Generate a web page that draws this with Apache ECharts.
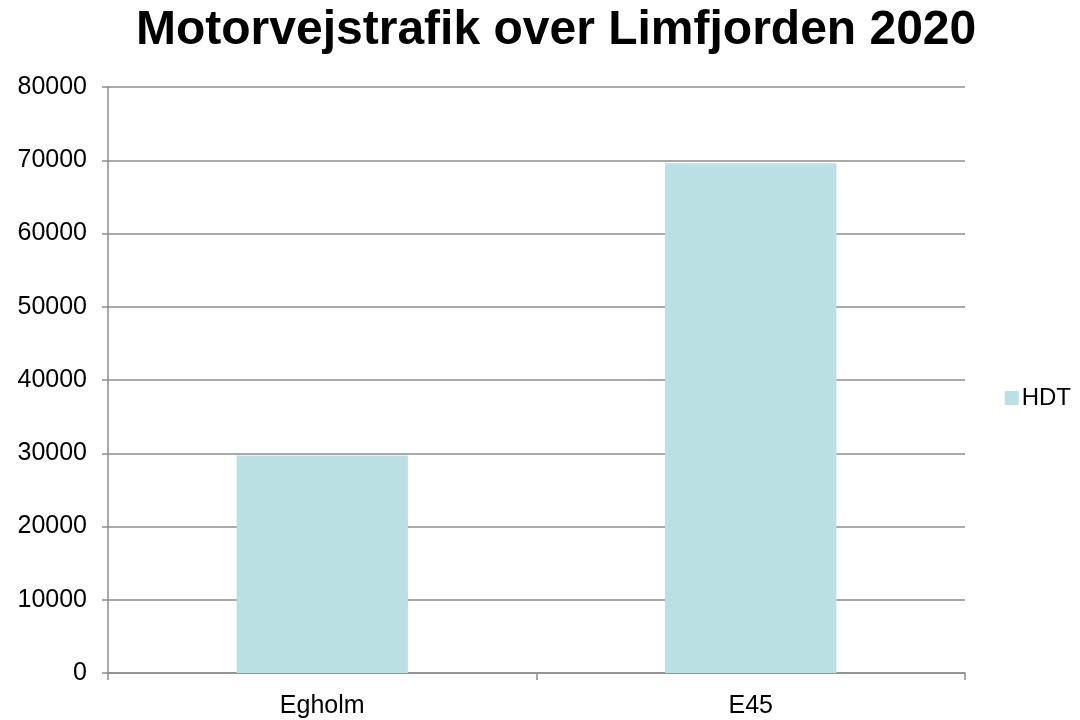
<!DOCTYPE html>
<html lang="da">
<head>
    <meta charset="UTF-8">
    <title>Motorvejstrafik over Limfjorden 2020</title>
    <script src="https://cdn.jsdelivr.net/npm/echarts@6/dist/echarts.min.js"></script>
    <style>
        html, body { margin: 0; padding: 0; background: #fff; }
        #main { width: 1080px; height: 720px; }
    </style>
</head>
<body>
<div id="main"></div>
<script>
    var categories = ['Egholm', 'E45'];
    var hdtValues = [29700, 69600];
    var seriesName = 'HDT';

    var chart = echarts.init(document.getElementById('main'));
    var font = 'Arial, "Liberation Sans", sans-serif';

    var option = {
        animation: false,
        backgroundColor: '#ffffff',
        title: {
            text: 'Motorvejstrafik over Limfjorden 2020',
            left: 131,
            top: 2,
            textStyle: { fontFamily: font, fontSize: 48, fontWeight: 'bold', color: '#000' }
        },
        legend: {
            data: [seriesName],
            right: 4,
            top: 381,
            orient: 'vertical',
            itemWidth: 14,
            itemHeight: 14,
            icon: 'rect',
            textStyle: { fontFamily: font, fontSize: 24, color: '#000', padding: [0, 0, 0, -2] }
        },
        grid: {
            left: 108,
            right: 115,
            top: 87,
            bottom: 47
        },
        xAxis: {
            type: 'category',
            data: categories,
            axisLine: { lineStyle: { color: '#8c8c8c', width: 1.5 } },
            axisTick: { show: true, length: 7, lineStyle: { color: '#8c8c8c', width: 1.5 } },
            axisLabel: { fontFamily: font, fontSize: 25, color: '#000', margin: 21 }
        },
        yAxis: {
            type: 'value',
            min: 0,
            max: 80000,
            interval: 10000,
            axisLine: { show: true, lineStyle: { color: '#8c8c8c', width: 1.5 } },
            axisTick: { show: true, length: 6, lineStyle: { color: '#8c8c8c', width: 1.5 } },
            axisLabel: {
                fontFamily: font, fontSize: 25, color: '#000', margin: 21,
                formatter: function (v) { return String(v); }
            },
            splitLine: { lineStyle: { color: '#8c8c8c', width: 1.5 } }
        },
        series: [{
            name: seriesName,
            type: 'bar',
            data: hdtValues,
            barWidth: '40%',
            itemStyle: { color: '#bbe0e3' }
        }]
    };

    chart.setOption(option);
</script>
</body>
</html>
